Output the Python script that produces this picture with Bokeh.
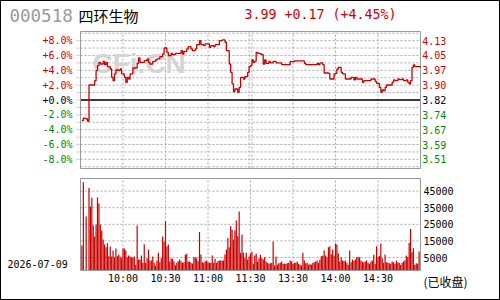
from bokeh.plotting import figure
from bokeh.models import ColumnDataSource, Range1d, Label
from bokeh.layouts import column
from bokeh.embed import file_html
from bokeh.resources import INLINE
from bokeh.core.properties import value

# ---------------- data ----------------
stock_code = "000518"
stock_name = "四环生物"
quote_text = "3.99 +0.17 (+4.45%)"
date_text = "2026-07-09"
status_text = "(已收盘)"
watermark = "CFi.CN"

# price line: minute index from 9:30 (0..240, lunch removed) and % change
price_min = [1, 2, 3, 4, 5, 6, 9, 10, 11, 12, 13, 14, 16, 17, 18, 19, 21, 22, 23, 24,
             25, 27, 28, 29, 31, 32, 33, 34, 35, 37, 39, 40, 41, 42, 45, 47, 48, 49, 51, 53,
             54, 56, 58, 59, 61, 62, 64, 65, 67, 71, 72, 73, 75, 76, 78, 79, 81, 82, 84, 85,
             87, 88, 91, 92, 94, 95, 98, 100, 102, 103, 105, 106, 107, 108, 109, 111, 112, 113, 115, 116,
             118, 119, 120, 121, 122, 123, 124, 125, 127, 128, 129, 130, 131, 133, 134, 136, 138, 140, 142, 146,
             148, 151, 156, 158, 159, 166, 167, 168, 169, 171, 172, 175, 176, 178, 179, 180, 181, 182, 184, 185,
             187, 189, 191, 193, 194, 195, 197, 199, 200, 203, 205, 207, 208, 209, 211, 212, 213, 214, 215, 216,
             219, 220, 221, 222, 224, 225, 227, 228, 230, 231, 232, 233, 234, 235, 236, 240]
price_pct = [-2.79, -2.43, -2.47, -2.56, -2.88, 2.02, 2.02, 2.61, 3.96, 4.63, 5.08, 4.85, 5.21, 4.76, 5.08, 4.49, 4.18, 3.06, 2.61, 3.51,
             4.04, 3.96, 4.18, 3.51, 3.06, 2.38, 3.06, 2.83, 3.51, 4.31, 4.31, 4.94, 5.66, 5.08, 5.30, 5.53, 5.08, 4.85, 5.21, 5.39,
             5.53, 5.84, 6.20, 7.01, 6.43, 5.98, 6.29, 6.11, 6.29, 6.65, 6.20, 6.56, 6.88, 7.19, 6.88, 6.65, 6.88, 7.46, 8.00, 7.46,
             7.33, 7.55, 7.10, 7.33, 7.19, 7.46, 8.00, 8.09, 7.78, 6.65, 4.85, 3.73, 2.16, 1.12, 1.48, 1.03, 1.71, 3.06, 2.83, 3.15,
             3.73, 4.49, 4.63, 5.39, 5.08, 5.21, 6.43, 6.29, 6.20, 6.11, 4.85, 5.39, 4.94, 5.21, 4.99, 5.21, 4.99, 4.99, 4.76, 4.76,
             5.17, 5.26, 5.26, 4.94, 4.76, 4.76, 4.94, 4.76, 4.99, 4.76, 3.64, 3.60, 2.83, 2.83, 3.51, 3.60, 4.18, 4.40, 3.73, 3.51,
             2.83, 2.83, 3.06, 2.70, 3.06, 2.83, 2.83, 2.38, 2.61, 2.61, 2.83, 2.83, 2.52, 2.25, 1.71, 1.03, 1.35, 1.26, 1.71, 2.02,
             2.02, 2.38, 2.70, 2.61, 2.83, 2.74, 2.83, 2.61, 2.70, 2.38, 2.16, 2.61, 4.40, 4.72, 4.49, 4.45]

# volume bars: minute index and volume
vol_min = [1, 2, 4, 6, 7, 8, 9, 10, 11, 12, 13, 14, 15, 16, 17, 18, 19, 20, 21, 22,
           23, 24, 25, 26, 27, 28, 29, 30, 31, 32, 33, 34, 35, 36, 37, 38, 39, 40, 41, 42,
           43, 44, 45, 46, 47, 48, 49, 50, 51, 52, 53, 54, 55, 56, 57, 58, 59, 60, 61, 62,
           63, 64, 65, 66, 67, 68, 69, 70, 71, 72, 73, 74, 75, 76, 77, 78, 79, 80, 81, 82,
           83, 84, 85, 86, 87, 88, 89, 90, 91, 92, 93, 94, 95, 96, 97, 98, 99, 100, 101, 102,
           103, 104, 105, 106, 107, 108, 109, 110, 111, 112, 113, 114, 115, 116, 117, 118, 119, 120, 121, 122,
           123, 124, 125, 126, 127, 128, 129, 130, 131, 132, 133, 134, 135, 136, 137, 138, 139, 140, 141, 142,
           143, 144, 145, 146, 147, 148, 149, 150, 151, 152, 153, 154, 155, 156, 157, 158, 159, 160, 161, 162,
           163, 164, 165, 166, 167, 168, 169, 170, 171, 172, 173, 174, 175, 176, 177, 178, 179, 180, 181, 182,
           183, 184, 185, 186, 187, 188, 189, 190, 191, 192, 193, 194, 195, 196, 197, 198, 199, 200, 201, 202,
           203, 204, 205, 206, 207, 208, 209, 210, 211, 212, 213, 214, 215, 216, 217, 218, 219, 220, 221, 222,
           223, 224, 225, 226, 227, 228, 229, 230, 231, 232, 233, 234, 235, 236, 237, 238, 239]
vol_val = [12200, 50300, 29700, 46900, 35700, 41000, 24300, 17600, 24900, 41100, 37500, 24900, 21300, 15800, 12800, 11200, 13600, 5800, 11600, 5600,
           9200, 5200, 10400, 5800, 6800, 5600, 4600, 10400, 10400, 9200, 5200, 6200, 5600, 5200, 4800, 5600, 600, 24300, 3800, 3800,
           6200, 1800, 13000, 1800, 4600, 9800, 3200, 3200, 5600, 1800, 200, 3200, 7800, 2200, 4600, 17600, 14600, 26900, 11800, 12800,
           2600, 4600, 4200, 2600, 300, 1800, 2800, 3800, 2800, 1800, 2200, 6600, 7200, 2600, 2600, 1800, 1400, 5200, 5200, 4600,
           2800, 20300, 6800, 2200, 1800, 2800, 3200, 2200, 1800, 1800, 6200, 1800, 4200, 1800, 2800, 3200, 3200, 3200, 3200, 6800,
           9800, 16800, 11200, 23900, 21700, 15800, 21300, 27300, 17800, 32700, 7800, 18800, 7800, 4600, 7800, 3800, 5600, 7200, 8600, 1200,
           6200, 7200, 2600, 4600, 6600, 4600, 3800, 5200, 2600, 1800, 1200, 1500, 1800, 14600, 200, 5600, 600, 1500, 1800, 2600,
           1200, 1200, 1200, 1500, 1800, 3200, 2600, 1200, 1800, 1800, 2600, 1200, 600, 200, 7800, 3200, 1500, 1800, 600, 1200,
           600, 1800, 2200, 2600, 3200, 1800, 3800, 5800, 6000, 9200, 6200, 5200, 11200, 11800, 7000, 9800, 6200, 13400, 12800, 7600,
           2600, 5200, 3200, 2800, 3200, 1800, 600, 9200, 2200, 3800, 3000, 3800, 5200, 5200, 5200, 3200, 2500, 2200, 2600, 3200,
           1800, 1200, 2500, 3200, 6600, 1200, 11800, 5200, 6000, 13400, 4600, 1800, 6800, 2200, 1800, 1500, 1200, 2600, 2200, 1200,
           3200, 2000, 1800, 600, 1800, 2600, 3200, 6200, 5200, 13800, 22200, 8200, 10600, 600, 1500, 1200, 8600]

pct_ticks = [8, 6, 4, 2, 0, -2, -4, -6, -8]
pct_labels = ["+8.0%", "+6.0%", "+4.0%", "+2.0%", "+0.0%", "-2.0%", "-4.0%", "-6.0%", "-8.0%"]
price_labels = ["4.13", "4.05", "3.97", "3.90", "3.82", "3.74", "3.67", "3.59", "3.51"]
time_ticks = [30, 60, 90, 120, 150, 180, 210]
time_labels = ["10:00", "10:30", "11:00", "11:30", "13:30", "14:00", "14:30"]
vol_ticks = [5000, 15000, 25000, 35000, 45000]
vol_labels = ["5000", "15000", "25000", "35000", "45000"]

# ---------------- style / layout ----------------
RED = "#cc0000"
LINE_RED = "#cc0000"
BAR_RED = "#c80000"
GREEN = "#008800"
GRID = "#a8a8a8"
FRAME = "#999999"
MONO = "DejaVu Sans Mono"
CJK = "Noto Sans CJK SC"

W, H = 498, 298              # canvas inside a 1px black border
PAGE_L, PAGE_R = 80, 420     # panel left / right (page px)
T_TOP, T_BOT = 31, 168       # price panel top / bottom (page px)
V_TOP, V_BOT = 178, 270      # volume panel top / bottom (page px)
N_MIN = 240
PCT_HALF = 9.23
VOL_START, VOL_END = -2830, 52590

PX = (PAGE_R - PAGE_L) / N_MIN                 # px per minute
PPX = 2 * PCT_HALF / (T_BOT - T_TOP)           # pct per px
VPX = (VOL_END - VOL_START) / (V_BOT - V_TOP)  # volume per px

x_rng = Range1d(-(PAGE_L - 1) / PX, N_MIN + (W + 1 - PAGE_R) / PX)
y_rng = Range1d(-PCT_HALF - (H + 1 - T_BOT) * PPX, PCT_HALF + (T_TOP - 1) * PPX)
v_rng = Range1d(VOL_START - (H + 1 - V_BOT) * VPX, VOL_END + (V_TOP - 1) * VPX)

p = figure(width=W, height=H, x_range=x_rng, y_range=y_rng,
           x_axis_type=None, y_axis_type=None, output_backend="svg", toolbar_location=None,
           min_border=0, min_border_left=0, min_border_right=0, min_border_top=0, min_border_bottom=0)
p.extra_y_ranges = {"vol": v_rng}
p.outline_line_color = None
p.background_fill_color = "white"
p.border_fill_color = "white"
p.xgrid.visible = False
p.ygrid.visible = False

def sx(page_x):
    return page_x - 1

def sy(page_y):
    return H + 1 - page_y

def data_x(page_x):
    return (page_x - PAGE_L) / PX

def data_y(page_y):
    return PCT_HALF - (page_y - T_TOP) * PPX

# ---- price panel grid ----
hg = list(range(-9, 10))
p.segment(x0=[0] * len(hg), x1=[N_MIN] * len(hg), y0=hg, y1=hg,
          line_color=GRID, line_dash="2 2", line_width=1)
tick_marks = list(range(-8, 9))
p.segment(x0=[-4 / PX] * len(tick_marks), x1=[0] * len(tick_marks), y0=tick_marks, y1=tick_marks,
          line_color=GRID, line_dash="1 1", line_width=1)
vg = [30, 60, 90, 119, 121, 150, 180, 210]
p.segment(x0=vg, x1=vg, y0=[-PCT_HALF] * len(vg), y1=[PCT_HALF] * len(vg),
          line_color=GRID, line_dash="2 2", line_width=1)

# watermark (drawn over the grid, under the price line)
p.text(x=[data_x(92)], y=[data_y(63)], text=[watermark], text_font=value("Liberation Sans"),
       text_font_style="bold", text_font_size="28px", text_color="#d4d4d4",
       text_baseline="middle", text_align="left")

p.segment(x0=[0], x1=[N_MIN], y0=[0], y1=[0], line_color="black", line_width=1.5)
p.quad(left=[0], right=[N_MIN], bottom=[-PCT_HALF], top=[PCT_HALF],
       fill_color=None, line_color=FRAME, line_width=1)

src = ColumnDataSource(dict(x=price_min, y=price_pct))
p.step("x", "y", source=src, mode="after", line_color=LINE_RED, line_width=1.3)

lab_colors = [RED if t > 0 else ("#000000" if t == 0 else GREEN) for t in pct_ticks]
lsrc = ColumnDataSource(dict(y=pct_ticks, t1=pct_labels, t2=price_labels, label_color=lab_colors,
                             xl=[-8 / PX] * len(pct_ticks), xr=[N_MIN + 1.7 / PX] * len(pct_ticks)))
p.text(x="xl", y="y", text="t1", source=lsrc, text_align="right", text_baseline="middle",
       text_color="label_color", text_font=value(MONO), text_font_size="10px")
p.text(x="xr", y="y", text="t2", source=lsrc, text_align="left", text_baseline="middle",
       text_color="label_color", text_font=value(MONO), text_font_size="10px")

# ---- volume panel ----
p.segment(x0=[0] * len(vol_ticks), x1=[N_MIN] * len(vol_ticks), y0=vol_ticks, y1=vol_ticks,
          line_color=GRID, line_dash="2 2", line_width=1, y_range_name="vol")
p.segment(x0=time_ticks, x1=time_ticks, y0=[VOL_START] * len(time_ticks), y1=[VOL_END] * len(time_ticks),
          line_color=GRID, line_dash="2 2", line_width=1, y_range_name="vol")

vsrc = ColumnDataSource(dict(x=vol_min, top=vol_val))
p.vbar(x="x", top="top", bottom=VOL_START, width=0.85, source=vsrc,
       fill_color=BAR_RED, line_color=None, y_range_name="vol")
p.quad(left=[0], right=[N_MIN], bottom=[VOL_START], top=[VOL_END],
       fill_color=None, line_color=FRAME, line_width=1, y_range_name="vol")

vsrc2 = ColumnDataSource(dict(y=vol_ticks, t=vol_labels, x=[N_MIN + 3 / PX] * len(vol_ticks)))
p.text(x="x", y="y", text="t", source=vsrc2, text_align="left", text_baseline="middle",
       text_color="#000000", text_font=value(MONO), text_font_size="10px", y_range_name="vol")

tsrc = ColumnDataSource(dict(x=time_ticks, t=time_labels, y=[VOL_START - 2 * VPX] * len(time_ticks)))
p.text(x="x", y="y", text="t", source=tsrc, text_align="center", text_baseline="top",
       text_color="#000000", text_font=value(MONO), text_font_size="10px", y_range_name="vol")

# ---- title row and captions ----
p.add_layout(Label(x=sx(9), y=sy(15), x_units="screen", y_units="screen", text=stock_code,
                   text_font=MONO, text_font_size="17.5px", text_color="#9a9a9a",
                   text_baseline="middle"))
p.add_layout(Label(x=sx(78), y=sy(15), x_units="screen", y_units="screen", text=stock_name,
                   text_font=CJK, text_font_size="15px", text_color="#000000",
                   text_baseline="middle"))
p.add_layout(Label(x=sx(244), y=sy(14), x_units="screen", y_units="screen", text=quote_text,
                   text_font=MONO, text_font_size="13.3px", text_color=RED,
                   text_baseline="middle"))
p.add_layout(Label(x=sx(7), y=sy(263), x_units="screen", y_units="screen", text=date_text,
                   text_font=MONO, text_font_size="10px", text_color="#000000",
                   text_baseline="middle"))
p.add_layout(Label(x=sx(423), y=sy(281), x_units="screen", y_units="screen", text=status_text,
                   text_font=CJK, text_font_size="12px", text_color="#000000",
                   text_baseline="middle"))

layout = column(p, spacing=0, styles={"border": "1px solid black"})

open("out.html", "w").write(file_html(layout, INLINE))
